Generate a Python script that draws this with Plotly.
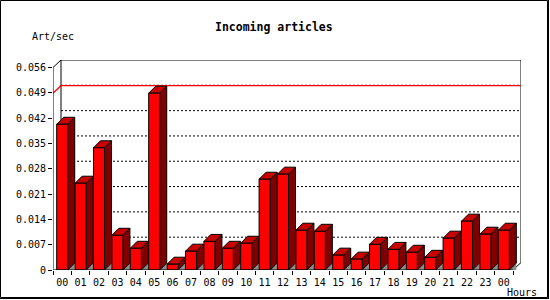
import plotly.graph_objects as go

# ---------------- data ----------------
hours = ["00", "01", "02", "03", "04", "05", "06", "07", "08", "09", "10", "11",
         "12", "13", "14", "15", "16", "17", "18", "19", "20", "21", "22", "23", "00"]
articles_per_sec = [0.0403, 0.0240, 0.0338, 0.0096, 0.0060, 0.0489, 0.0016, 0.0052,
                    0.0079, 0.0060, 0.0074, 0.0251, 0.0265, 0.0110, 0.0107, 0.0041,
                    0.0030, 0.0071, 0.0057, 0.0049, 0.0035, 0.0088, 0.0135, 0.0099,
                    0.0110]
y_ticks = [0, 0.007, 0.014, 0.021, 0.028, 0.035, 0.042, 0.049, 0.056]
y_tick_labels = ["0", "0.007", "0.014", "0.021", "0.028", "0.035", "0.042", "0.049", "0.056"]
title_text = "Incoming articles"
y_title = "Art/sec"
x_title = "Hours"

# ---------------- layout geometry ----------------
W, H = 550, 300
ML, MR, MT, MB = 53, 29, 60, 30
PW, PH = W - ML - MR, H - MT - MB
SLOT_PX = 18.4
WALL_DX_PX, WALL_DY_PX = 8.0, 7.5
BAR_D_PX = 7.0
BAR_W = 0.6

n = len(hours)
idx = list(range(n))
x_lo = -0.5
x_hi = x_lo + PW / SLOT_PX
x_end = n - 0.5
y_top_tick = max(y_ticks)
SY = (PH - WALL_DY_PX) / y_top_tick
y_hi = PH / SY

wdx, wdy = WALL_DX_PX / SLOT_PX, WALL_DY_PX / SY
bdx, bdy = BAR_D_PX / SLOT_PX, BAR_D_PX / SY

FONT = "DejaVu Sans Mono"


def px2paper(px, py):
    return (px - ML) / PW, 1 - (py - MT) / PH


fig = go.Figure()


def add_line(xs, ys, color="black", dash="solid", width=1):
    fig.add_trace(go.Scatter(x=xs, y=ys, mode="lines", cliponaxis=False,
                             line=dict(color=color, width=width, dash=dash),
                             hoverinfo="skip", showlegend=False))


def add_poly(xs, ys, fill, outline):
    fig.add_trace(go.Scatter(x=xs, y=ys, mode="lines", fill="toself", fillcolor=fill,
                             cliponaxis=False,
                             line=dict(color=outline if outline else fill,
                                       width=1 if outline else 0),
                             hoverinfo="skip", showlegend=False))


# grid lines on the back wall
gx, gy = [], []
for v in y_ticks[1:-1]:
    gx += [x_lo + wdx, x_end + wdx, None]
    gy += [v + wdy, v + wdy, None]
add_line(gx, gy, dash="2px,2px")

# back wall frame
add_line([x_lo + wdx, x_lo + wdx, x_end + wdx, x_end + wdx, x_end],
         [wdy, y_top_tick + wdy, y_top_tick + wdy, wdy, 0])

# max line (red)
m = max(articles_per_sec)
add_line([x_lo - 0.1, x_lo, x_lo + wdx, x_end + wdx],
         [m, m, m + wdy, m + wdy], color="#ff0000", width=1.3)

# bars
tri_x, tri_y, fr_x, fr_y, top_x, top_y, sd_x, sd_y = [], [], [], [], [], [], [], []
for i, v in zip(idx, articles_per_sec):
    xl, xr = i - BAR_W / 2, i + BAR_W / 2
    tri_x += [xr, xr + bdx, xr + bdx, xr, None]
    tri_y += [0, bdy, 0, 0, None]
    fr_x += [xl, xl, xr, xr, xl, None]
    fr_y += [0, v, v, 0, 0, None]
    top_x += [xl, xl + bdx, xr + bdx, xr, xl, None]
    top_y += [v, v + bdy, v + bdy, v, v, None]
    sd_x += [xr, xr + bdx, xr + bdx, xr, xr, None]
    sd_y += [v, v + bdy, bdy, 0, v, None]

add_poly(tri_x, tri_y, "#8c8c8c", None)
add_poly(sd_x, sd_y, "#800000", "black")
add_poly(top_x, top_y, "#c80000", "black")
add_poly(fr_x, fr_y, "#ff0000", "black")

# front axes
add_line([x_lo + wdx, x_lo, x_lo, x_end], [y_top_tick + wdy, y_top_tick, 0, 0])

fig.update_layout(
    width=W, height=H,
    margin=dict(l=ML, r=MR, t=MT, b=MB, autoexpand=False),
    paper_bgcolor="white", plot_bgcolor="white",
    showlegend=False,
    xaxis=dict(range=[x_lo, x_hi], tickmode="array", tickvals=idx, ticktext=hours,
               ticks="outside", ticklen=3, tickcolor="rgba(0,0,0,0)",
               showline=False, showgrid=False, zeroline=False,
               tickfont=dict(family=FONT, size=10, color="black"),
               minor=dict(tickmode="array", tickvals=[i - 0.5 for i in range(n + 1)],
                          ticks="outside", ticklen=4, tickwidth=1, tickcolor="black",
                          showgrid=False),
               fixedrange=True),
    yaxis=dict(range=[0, y_hi], tickmode="array", tickvals=y_ticks, ticktext=y_tick_labels,
               ticks="outside", ticklen=4, tickwidth=1, tickcolor="black",
               showline=False, showgrid=False, zeroline=False,
               tickfont=dict(family=FONT, size=10, color="black"),
               fixedrange=True),
)

tx, ty = px2paper(273.5, 27)
fig.add_annotation(x=tx, y=ty, xref="paper", yref="paper", text="<b>%s</b>" % title_text,
                   showarrow=False, xanchor="center", yanchor="middle",
                   font=dict(family=FONT, size=11.5, color="black"))
ax, ay = px2paper(30, 36.7)
fig.add_annotation(x=ax, y=ay, xref="paper", yref="paper", text=y_title,
                   showarrow=False, xanchor="left", yanchor="middle",
                   font=dict(family=FONT, size=10, color="black"))
hx, hy = px2paper(505, 292.7)
fig.add_annotation(x=hx, y=hy, xref="paper", yref="paper", text=x_title,
                   showarrow=False, xanchor="left", yanchor="middle",
                   font=dict(family=FONT, size=10, color="black"))

# outer frame
x0p, y0p = px2paper(0.5, 0.5)
x1p, y1p = px2paper(547.5, 297.5)
fig.add_shape(type="rect", xref="paper", yref="paper", x0=x0p, y0=y0p, x1=x1p, y1=y1p,
              line=dict(color="black", width=1))
xa, ya = px2paper(548.5, 0)
xb, yb = px2paper(548.5, 299)
fig.add_shape(type="line", xref="paper", yref="paper", x0=xa, y0=ya, x1=xb, y1=yb,
              line=dict(color="black", width=1))
xa, ya = px2paper(0, 298.5)
xb, yb = px2paper(549, 298.5)
fig.add_shape(type="line", xref="paper", yref="paper", x0=xa, y0=ya, x1=xb, y1=yb,
              line=dict(color="black", width=1))

fig.write_html("out.html")
